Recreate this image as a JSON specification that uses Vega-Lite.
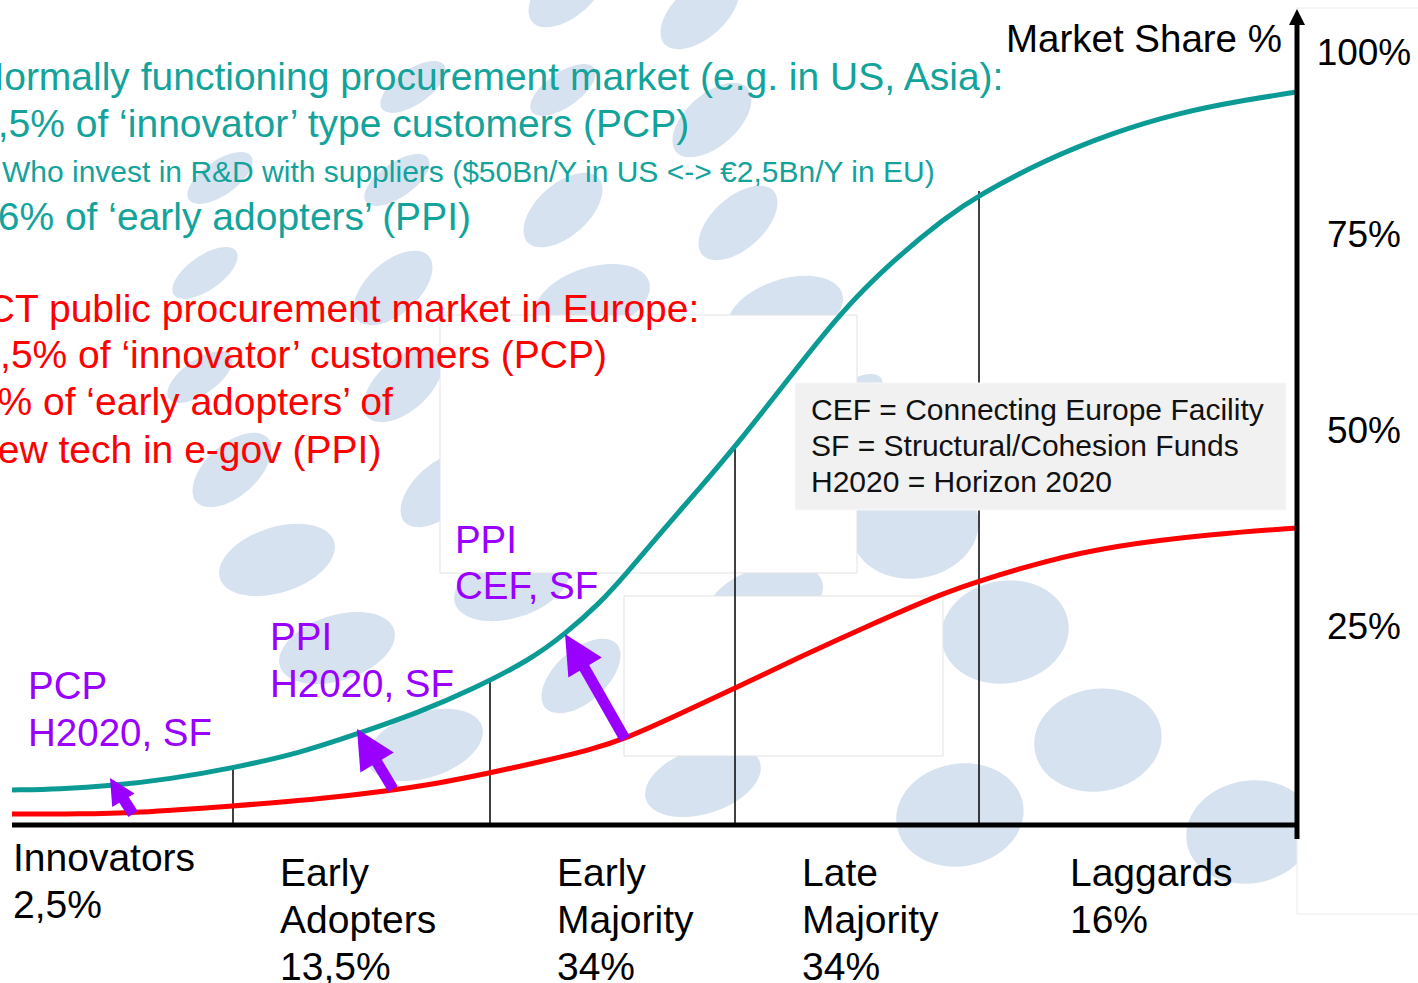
{
  "$schema": "https://vega.github.io/schema/vega-lite/v6.json",
  "width": 1418,
  "height": 983,
  "autosize": {"type": "none"},
  "padding": 0,
  "background": "#ffffff",
  "config": {"view": {"stroke": null}},
  "datasets": {
    "curves": [
      {"market": "Normally functioning procurement market", "x": 0, "y": 4.45},
      {"market": "Normally functioning procurement market", "x": 3.74, "y": 4.58},
      {"market": "Normally functioning procurement market", "x": 7.63, "y": 4.96},
      {"market": "Normally functioning procurement market", "x": 12.3, "y": 5.85},
      {"market": "Normally functioning procurement market", "x": 17.2, "y": 7.25},
      {"market": "Normally functioning procurement market", "x": 22.41, "y": 9.16},
      {"market": "Normally functioning procurement market", "x": 26.85, "y": 11.58},
      {"market": "Normally functioning procurement market", "x": 31.75, "y": 14.38},
      {"market": "Normally functioning procurement market", "x": 35.88, "y": 17.3},
      {"market": "Normally functioning procurement market", "x": 40.31, "y": 20.99},
      {"market": "Normally functioning procurement market", "x": 43.04, "y": 24.3},
      {"market": "Normally functioning procurement market", "x": 45.76, "y": 28.24},
      {"market": "Normally functioning procurement market", "x": 47.78, "y": 31.93},
      {"market": "Normally functioning procurement market", "x": 50.43, "y": 37.1},
      {"market": "Normally functioning procurement market", "x": 53.54, "y": 42.9},
      {"market": "Normally functioning procurement market", "x": 56.26, "y": 48.09},
      {"market": "Normally functioning procurement market", "x": 60.54, "y": 57.0},
      {"market": "Normally functioning procurement market", "x": 64.44, "y": 65.14},
      {"market": "Normally functioning procurement market", "x": 68.33, "y": 71.5},
      {"market": "Normally functioning procurement market", "x": 72.68, "y": 77.35},
      {"market": "Normally functioning procurement market", "x": 75.25, "y": 80.15},
      {"market": "Normally functioning procurement market", "x": 80.39, "y": 84.61},
      {"market": "Normally functioning procurement market", "x": 85.6, "y": 88.04},
      {"market": "Normally functioning procurement market", "x": 90.74, "y": 90.59},
      {"market": "Normally functioning procurement market", "x": 95.95, "y": 92.24},
      {"market": "Normally functioning procurement market", "x": 100, "y": 93.26},
      {"market": "ICT public procurement market in Europe", "x": 0, "y": 1.4},
      {"market": "ICT public procurement market in Europe", "x": 5.29, "y": 1.4},
      {"market": "ICT public procurement market in Europe", "x": 9.42, "y": 1.53},
      {"market": "ICT public procurement market in Europe", "x": 17.2, "y": 2.42},
      {"market": "ICT public procurement market in Europe", "x": 23.19, "y": 3.18},
      {"market": "ICT public procurement market in Europe", "x": 29.18, "y": 4.33},
      {"market": "ICT public procurement market in Europe", "x": 33.31, "y": 5.34},
      {"market": "ICT public procurement market in Europe", "x": 37.2, "y": 6.62},
      {"market": "ICT public procurement market in Europe", "x": 41.09, "y": 8.02},
      {"market": "ICT public procurement market in Europe", "x": 44.98, "y": 9.54},
      {"market": "ICT public procurement market in Europe", "x": 47.7, "y": 10.94},
      {"market": "ICT public procurement market in Europe", "x": 51.98, "y": 14.12},
      {"market": "ICT public procurement market in Europe", "x": 56.26, "y": 17.43},
      {"market": "ICT public procurement market in Europe", "x": 61.32, "y": 21.37},
      {"market": "ICT public procurement market in Europe", "x": 66.77, "y": 25.45},
      {"market": "ICT public procurement market in Europe", "x": 72.68, "y": 29.64},
      {"market": "ICT public procurement market in Europe", "x": 75.25, "y": 31.04},
      {"market": "ICT public procurement market in Europe", "x": 80.39, "y": 33.59},
      {"market": "ICT public procurement market in Europe", "x": 85.6, "y": 35.5},
      {"market": "ICT public procurement market in Europe", "x": 93.39, "y": 37.02},
      {"market": "ICT public procurement market in Europe", "x": 100, "y": 37.79}
    ],
    "blobs": [
      {"kind": "t2", "x": 43.27, "y": 106.23},
      {"kind": "t2", "x": 53.54, "y": 103.44},
      {"kind": "t1", "x": 31.21, "y": 93.89},
      {"kind": "t1", "x": 42.88, "y": 93.51},
      {"kind": "t2", "x": 54.47, "y": 89.69},
      {"kind": "t1", "x": 29.96, "y": 82.06},
      {"kind": "t1", "x": 16.19, "y": 82.32},
      {"kind": "t2", "x": 42.88, "y": 78.24},
      {"kind": "t2", "x": 56.5, "y": 76.59},
      {"kind": "t1", "x": 15.02, "y": 70.23},
      {"kind": "t2", "x": 29.65, "y": 68.32},
      {"kind": "o1", "x": 45.14, "y": 66.79},
      {"kind": "o1", "x": 60.16, "y": 65.27},
      {"kind": "t1", "x": 14.63, "y": 57.0},
      {"kind": "t2", "x": 30.43, "y": 55.98},
      {"kind": "t2", "x": 17.12, "y": 45.17},
      {"kind": "t2", "x": 33.31, "y": 42.62},
      {"kind": "o1", "x": 20.62, "y": 33.72},
      {"kind": "o1", "x": 25.29, "y": 22.52},
      {"kind": "o1", "x": 32.14, "y": 10.18},
      {"kind": "o1", "x": 38.91, "y": 30.53},
      {"kind": "t2", "x": 44.28, "y": 18.96},
      {"kind": "o1", "x": 53.77, "y": 5.6},
      {"kind": "o1", "x": 58.6, "y": 28.63},
      {"kind": "r1", "x": 70.27, "y": 37.91},
      {"kind": "r1", "x": 77.28, "y": 24.55},
      {"kind": "r1", "x": 73.77, "y": 1.27},
      {"kind": "r1", "x": 84.51, "y": 10.81},
      {"kind": "r1", "x": 96.34, "y": -0.89},
      {"kind": "t1", "x": 65.21, "y": 54.07}
    ],
    "boxes": [
      {"box": "cover", "x": 33.307, "x2": 65.759, "y": 64.885, "y2": 32.061},
      {"box": "cover", "x": 47.626, "x2": 72.451, "y": 29.135, "y2": 8.779},
      {"box": "margin", "x": 100, "x2": 109.57, "y": 103.944, "y2": -11.323},
      {"box": "key", "x": 60.934, "x2": 99.144, "y": 56.234, "y2": 40.076}
    ],
    "dividers": [
      {"x": 17.198, "y": 0, "y2": 7.63},
      {"x": 37.198, "y": 0, "y2": 18.58},
      {"x": 56.265, "y": 0, "y2": 48.09},
      {"x": 75.253, "y": 0, "y2": 80.66}
    ],
    "frame": [
      {"part": "x-axis", "x": 0, "y": 0, "x2": 100, "y2": 0},
      {"part": "y-axis", "x": 100, "y": -1.78, "x2": 100, "y2": 102.3}
    ],
    "axishead": [{"x": 100, "y": 103.82}],
    "shafts": [
      {"id": "a1", "x": 9.416, "y": 1.399, "x2": 8.591, "y2": 3.511},
      {"id": "a2", "x": 29.65, "y": 4.58, "x2": 28.288, "y2": 8.282},
      {"id": "a3", "x": 47.704, "y": 10.941, "x2": 44.43, "y2": 20.33}
    ],
    "heads": [
      {"id": "a1", "x": 7.626, "y": 5.98},
      {"id": "a2", "x": 26.848, "y": 12.214},
      {"id": "a3", "x": 43.035, "y": 24.3}
    ],
    "notes": [
      {"grp": "teal", "x": -2.8, "y": 93.51, "txt": "Normally functioning procurement market (e.g. in US, Asia):"},
      {"grp": "teal", "x": -2.8, "y": 87.53, "txt": "2,5% of ‘innovator’ type customers (PCP)"},
      {"grp": "tealsmall", "x": -0.78, "y": 81.81, "txt": "Who invest in R&D with suppliers ($50Bn/Y in US <-> €2,5Bn/Y in EU)"},
      {"grp": "teal", "x": -2.8, "y": 75.7, "txt": "16% of ‘early adopters’ (PPI)"},
      {"grp": "red", "x": -2.8, "y": 63.99, "txt": "ICT public procurement market in Europe:"},
      {"grp": "red", "x": -0.93, "y": 58.14, "txt": ",5% of ‘innovator’ customers (PCP)"},
      {"grp": "red", "x": -1.13, "y": 52.16, "txt": "% of ‘early adopters’ of"},
      {"grp": "red", "x": -2.8, "y": 46.06, "txt": "new tech in e-gov (PPI)"},
      {"grp": "purple", "x": 1.245, "y": 16.03, "txt": "PCP"},
      {"grp": "purple", "x": 1.245, "y": 10.05, "txt": "H2020, SF"},
      {"grp": "purple", "x": 20.08, "y": 22.26, "txt": "PPI"},
      {"grp": "purple", "x": 20.08, "y": 16.28, "txt": "H2020, SF"},
      {"grp": "purple", "x": 34.47, "y": 34.61, "txt": "PPI"},
      {"grp": "purple", "x": 34.47, "y": 28.75, "txt": "CEF, SF"},
      {"grp": "cat", "x": 0.078, "y": -5.85, "txt": "Innovators"},
      {"grp": "cat", "x": 0.078, "y": -11.83, "txt": "2,5%"},
      {"grp": "cat", "x": 20.86, "y": -7.76, "txt": "Early"},
      {"grp": "cat", "x": 20.86, "y": -13.74, "txt": "Adopters"},
      {"grp": "cat", "x": 20.86, "y": -19.72, "txt": "13,5%"},
      {"grp": "cat", "x": 42.41, "y": -7.76, "txt": "Early"},
      {"grp": "cat", "x": 42.41, "y": -13.74, "txt": "Majority"},
      {"grp": "cat", "x": 42.41, "y": -19.72, "txt": "34%"},
      {"grp": "cat", "x": 61.48, "y": -7.76, "txt": "Late"},
      {"grp": "cat", "x": 61.48, "y": -13.74, "txt": "Majority"},
      {"grp": "cat", "x": 61.48, "y": -19.72, "txt": "34%"},
      {"grp": "cat", "x": 82.33, "y": -7.76, "txt": "Laggards"},
      {"grp": "cat", "x": 82.33, "y": -13.74, "txt": "16%"},
      {"grp": "title", "x": 98.83, "y": 98.35, "txt": "Market Share %"},
      {"grp": "ylab", "x": 105.21, "y": 98.1, "txt": "100%"},
      {"grp": "ylab", "x": 105.21, "y": 75, "txt": "75%"},
      {"grp": "ylab", "x": 105.21, "y": 50, "txt": "50%"},
      {"grp": "ylab", "x": 105.21, "y": 25, "txt": "25%"},
      {"grp": "key", "x": 62.18, "y": 51.53, "txt": "CEF = Connecting Europe Facility"},
      {"grp": "key", "x": 62.18, "y": 46.95, "txt": "SF = Structural/Cohesion Funds"},
      {"grp": "key", "x": 62.18, "y": 42.37, "txt": "H2020 = Horizon 2020"}
    ]
  },
  "encoding": {
    "x": {"field": "x", "type": "quantitative", "scale": {"domain": [-0.934, 109.416], "nice": false, "zero": false}, "axis": null},
    "y": {"field": "y", "type": "quantitative", "scale": {"domain": [-20.102, 104.962], "nice": false, "zero": false}, "axis": null}
  },
  "layer": [
    {"data": {"name": "blobs"}, "transform": [{"filter": "datum.kind === 't1'"}],
     "mark": {"type": "point", "filled": true, "fill": "#d6e2ef", "opacity": 1, "strokeWidth": 0, "size": 5776,
              "shape": "M-0.819,0.574A1,0.45,-35,0,1,0.819,-0.574A1,0.45,-35,0,1,-0.819,0.574Z"}},
    {"data": {"name": "blobs"}, "transform": [{"filter": "datum.kind === 't2'"}],
     "mark": {"type": "point", "filled": true, "fill": "#d6e2ef", "opacity": 1, "strokeWidth": 0, "size": 9216,
              "shape": "M-0.743,0.669A1,0.55,-42,0,1,0.743,-0.669A1,0.55,-42,0,1,-0.743,0.669Z"}},
    {"data": {"name": "blobs"}, "transform": [{"filter": "datum.kind === 'o1'"}],
     "mark": {"type": "point", "filled": true, "fill": "#d6e2ef", "opacity": 1, "strokeWidth": 0, "size": 14400,
              "shape": "M-0.951,0.309A1,0.55,-18,0,1,0.951,-0.309A1,0.55,-18,0,1,-0.951,0.309Z"}},
    {"data": {"name": "blobs"}, "transform": [{"filter": "datum.kind === 'r1'"}],
     "mark": {"type": "point", "filled": true, "fill": "#d6e2ef", "opacity": 1, "strokeWidth": 0, "size": 16384,
              "shape": "M-0.985,0.174A1,0.8,-10,0,1,0.985,-0.174A1,0.8,-10,0,1,-0.985,0.174Z"}},
    {"data": {"name": "boxes"}, "transform": [{"filter": "datum.box === 'cover'"}],
     "mark": {"type": "rect", "fill": "#ffffff", "stroke": "#e2e2e2", "strokeWidth": 1},
     "encoding": {"x2": {"field": "x2"}, "y2": {"field": "y2"}}},
    {"data": {"name": "boxes"}, "transform": [{"filter": "datum.box === 'margin'"}],
     "mark": {"type": "rect", "fill": "#ffffff", "stroke": "#ececec", "strokeWidth": 1},
     "encoding": {"x2": {"field": "x2"}, "y2": {"field": "y2"}}},
    {"data": {"name": "dividers"},
     "mark": {"type": "rule", "color": "#111111", "strokeWidth": 1.6},
     "encoding": {"y2": {"field": "y2"}}},
    {"data": {"name": "boxes"}, "transform": [{"filter": "datum.box === 'key'"}],
     "mark": {"type": "rect", "fill": "#f1f1f1", "stroke": "#f8f8f8", "strokeWidth": 1},
     "encoding": {"x2": {"field": "x2"}, "y2": {"field": "y2"}}},
    {"data": {"name": "curves"},
     "mark": {"type": "line", "strokeWidth": 5, "interpolate": "basis", "strokeCap": "butt"},
     "encoding": {"color": {"field": "market", "type": "nominal", "legend": null,
        "scale": {"domain": ["Normally functioning procurement market", "ICT public procurement market in Europe"], "range": ["#0b9b94", "#ff0000"]}}}},
    {"data": {"name": "shafts"},
     "mark": {"type": "rule", "color": "#9900ff", "strokeWidth": 11, "strokeCap": "butt"},
     "encoding": {"x2": {"field": "x2"}, "y2": {"field": "y2"}}},
    {"data": {"name": "heads"}, "transform": [{"filter": "datum.id === 'a1'"}],
     "mark": {"type": "point", "filled": true, "fill": "#9900ff", "opacity": 1, "strokeWidth": 0, "size": 2704, "angle": 329,
              "shape": "M0,0L0.5,1L-0.5,1Z"}},
    {"data": {"name": "heads"}, "transform": [{"filter": "datum.id !== 'a1'"}],
     "mark": {"type": "point", "filled": true, "fill": "#9900ff", "opacity": 1, "strokeWidth": 0, "size": 6084, "angle": 329,
              "shape": "M0,0L0.5,1L-0.5,1Z"}},
    {"data": {"name": "frame"},
     "mark": {"type": "rule", "color": "#000000", "strokeWidth": 5, "strokeCap": "butt"},
     "encoding": {"x2": {"field": "x2"}, "y2": {"field": "y2"}}},
    {"data": {"name": "axishead"},
     "mark": {"type": "point", "filled": true, "fill": "#000000", "opacity": 1, "strokeWidth": 0, "size": 1024,
              "shape": "M0,0L0.5,1L-0.5,1Z"}},
    {"data": {"name": "notes"}, "transform": [{"filter": "datum.grp === 'teal'"}],
     "mark": {"type": "text", "font": "Liberation Sans", "fontSize": 39, "fill": "#13a39b", "align": "left", "baseline": "alphabetic"},
     "encoding": {"text": {"field": "txt"}}},
    {"data": {"name": "notes"}, "transform": [{"filter": "datum.grp === 'tealsmall'"}],
     "mark": {"type": "text", "font": "Liberation Sans", "fontSize": 30, "fill": "#13a39b", "align": "left", "baseline": "alphabetic"},
     "encoding": {"text": {"field": "txt"}}},
    {"data": {"name": "notes"}, "transform": [{"filter": "datum.grp === 'red'"}],
     "mark": {"type": "text", "font": "Liberation Sans", "fontSize": 39, "fill": "#ff0000", "align": "left", "baseline": "alphabetic"},
     "encoding": {"text": {"field": "txt"}}},
    {"data": {"name": "notes"}, "transform": [{"filter": "datum.grp === 'purple'"}],
     "mark": {"type": "text", "font": "Liberation Sans", "fontSize": 38.5, "fill": "#9900ff", "align": "left", "baseline": "alphabetic"},
     "encoding": {"text": {"field": "txt"}}},
    {"data": {"name": "notes"}, "transform": [{"filter": "datum.grp === 'cat'"}],
     "mark": {"type": "text", "font": "Liberation Sans", "fontSize": 39, "fill": "#000000", "align": "left", "baseline": "alphabetic"},
     "encoding": {"text": {"field": "txt"}}},
    {"data": {"name": "notes"}, "transform": [{"filter": "datum.grp === 'title'"}],
     "mark": {"type": "text", "font": "Liberation Sans", "fontSize": 38.5, "fill": "#000000", "align": "right", "baseline": "alphabetic"},
     "encoding": {"text": {"field": "txt"}}},
    {"data": {"name": "notes"}, "transform": [{"filter": "datum.grp === 'ylab'"}],
     "mark": {"type": "text", "font": "Liberation Sans", "fontSize": 37, "fill": "#000000", "align": "center", "baseline": "middle"},
     "encoding": {"text": {"field": "txt"}}},
    {"data": {"name": "notes"}, "transform": [{"filter": "datum.grp === 'key'"}],
     "mark": {"type": "text", "font": "Liberation Sans", "fontSize": 30, "fill": "#111111", "align": "left", "baseline": "alphabetic"},
     "encoding": {"text": {"field": "txt"}}}
  ]
}
